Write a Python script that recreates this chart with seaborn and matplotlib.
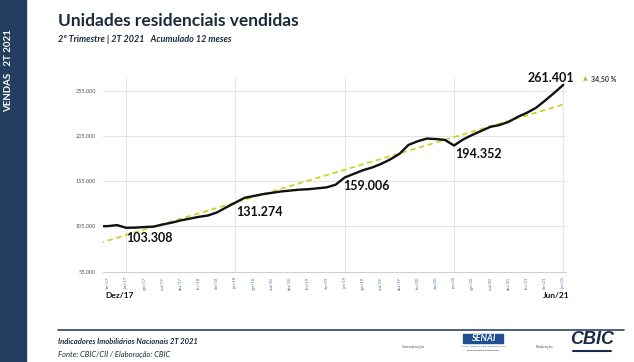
import matplotlib
matplotlib.use("Agg")
import matplotlib.pyplot as plt
import matplotlib.patches as mpatches
import numpy as np
import pandas as pd
import seaborn as sns

# ---------------- data ----------------
months = ["mar/17", "abr/17", "mai/17", "jun/17", "jul/17", "ago/17", "set/17", "out/17", "nov/17", "dez/17",
          "jan/18", "fev/18", "mar/18", "abr/18", "mai/18", "jun/18", "jul/18", "ago/18", "set/18", "out/18", "nov/18", "dez/18",
          "jan/19", "fev/19", "mar/19", "abr/19", "mai/19", "jun/19", "jul/19", "ago/19", "set/19", "out/19", "nov/19", "dez/19",
          "jan/20", "fev/20", "mar/20", "abr/20", "mai/20", "jun/20", "jul/20", "ago/20", "set/20", "out/20", "nov/20", "dez/20",
          "jan/21", "fev/21", "mar/21", "abr/21", "mai/21", "jun/21"]
units = [105000, 105200, 106300, 103308, 103500, 104200, 104600, 107000, 109000, 111500,
         113500, 115500, 117000, 120500, 126000, 131274, 136500, 138500, 140500, 142000, 143500, 144500,
         145500, 146000, 147000, 148000, 151000, 159006, 163000, 167000, 170000, 174000, 179000, 185000,
         195000, 199000, 202000, 201500, 200500, 194352, 201000, 206000, 210500, 215000, 217000, 220500,
         226000, 230500, 236000, 244000, 252500, 261401]
tick_labels = months[1::2]
y_ticks = [55000, 105000, 155000, 205000, 255000]
highlight = ["jun/17", "jun/18", "jun/19", "jun/20", "jun/21"]
growth_text = "34,50 %"

df = pd.DataFrame({"mes": months, "unidades": units})
df["pos"] = np.arange(len(df))

# ---------------- figure ----------------
W, H = 634, 362
fig = plt.figure(figsize=(W / 100, H / 100), dpi=100)
sns.set_style("white")
plt.rcParams["font.family"] = ["Lato", "DejaVu Sans"]

def P(x, y):
    return x / W, 1 - y / H

NAVY = "#243e60"

# left band
fig.patches.append(mpatches.Rectangle((0, 0), 26 / W, 1, transform=fig.transFigure,
                                      color=NAVY, zorder=0))
fig.text(*P(9, 71), "VENDAS   2T 2021", rotation=90, color="white", fontsize=7,
         fontweight="bold", ha="center", va="center")

# titles
fig.text(*P(58, 21), "Unidades residenciais vendidas", fontsize=12.5, fontweight="bold",
         color="#1c2b3c", ha="left", va="center")
fig.text(*P(58, 39), "2º Trimestre | 2T 2021   Acumulado 12 meses", fontsize=6.5,
         fontweight="bold", style="italic", color="#1c2b3c", ha="left", va="center")

# main axes
left, right, top, bottom = 103, 566, 78, 271.5
ax = fig.add_axes([left / W, 1 - bottom / H, (right - left) / W, (bottom - top) / H])

sns.regplot(data=df, x="pos", y="unidades", ax=ax, scatter=False, ci=None,
            line_kws=dict(color="#c8d62b", lw=1.3, ls=(0, (3, 2))))
sns.lineplot(data=df, x="pos", y="unidades", ax=ax, color="#111111", lw=1.7)

ax.set_xlim(0.45, 51.3)
ax.set_ylim(55000, 269000)
ax.set_yticks(y_ticks)
ax.set_yticklabels([f"{v:,}".replace(",", ".") for v in y_ticks], fontsize=4, color="#555555")
ax.set_xticks(df["pos"].values[1::2])
ax.set_xticklabels(tick_labels, rotation=90, fontsize=3, color="#4a6fa5")
ax.tick_params(axis="x", length=2, color="#cccccc", pad=2)
ax.tick_params(axis="y", length=0, pad=5)
ax.set_xlabel("")
ax.set_ylabel("")
ax.grid(axis="y", color="#e3e3e3", lw=0.8)
ax.set_axisbelow(True)
for m in highlight:
    ax.axvline(df.loc[df["mes"] == m, "pos"].values[0], color="#e8e8e8", lw=0.8, zorder=0)
for s in ["top", "right", "left"]:
    ax.spines[s].set_visible(False)
ax.spines["bottom"].set_color("#d0d0d0")
ax.spines["bottom"].set_linewidth(0.8)

# annotations
def fmt(v):
    return f"{v:,}".replace(",", ".")

offsets = {"jun/17": (0, -10, "left", "center"),
           "jun/18": (1, -9, "left", "center"),
           "jun/19": (-2, -9, "left", "center"),
           "jun/20": (1, -9, "left", "center"),
           "jun/21": (-12, 7, "center", "center")}
for m in highlight:
    r = df.loc[df["mes"] == m].iloc[0]
    dx, dy, ha, va = offsets[m]
    ax.annotate(fmt(r["unidades"]), (r["pos"], r["unidades"]), xytext=(dx, dy),
                textcoords="offset pixels", fontsize=9, fontweight="bold",
                color="#111111", ha=ha, va=va)

fig.text(*P(585, 79), "▲", fontsize=4.5, color="#9acd32", ha="center", va="center",
         family=["DejaVu Sans"])
fig.text(*P(591, 79), growth_text, fontsize=5, fontweight="bold", color="#333333",
         ha="left", va="center")

fig.text(*P(105, 296), "Dez/17", fontsize=6, fontweight="bold", color="#111111",
         ha="left", va="center")
fig.text(*P(570, 296), "Jun/21", fontsize=6, fontweight="bold", color="#111111",
         ha="right", va="center")

# footer
fig.add_artist(plt.Line2D([58 / W, 624 / W], [1 - 330 / H, 1 - 330 / H], color="#2c4566", lw=1.2))
fig.text(*P(58, 342), "Indicadores Imobiliários Nacionais 2T 2021", fontsize=5.5,
         fontweight="bold", style="italic", color="#1c2b3c", ha="left", va="center")
fig.text(*P(58, 354), "Fonte: CBIC/CII / Elaboração: CBIC", fontsize=5.5,
         style="italic", color="#1c2b3c", ha="left", va="center")
fig.text(*P(413, 347), "Correalização", fontsize=2.8, color="#555555", ha="center", va="center")
fig.text(*P(544, 347), "Realização", fontsize=2.8, color="#555555", ha="center", va="center")

fig.patches.append(mpatches.Rectangle((463 / W, 1 - 343 / H), 40 / W, 9 / H,
                                      transform=fig.transFigure, color="#1d4f91", zorder=1))
fig.text(*P(483, 338.5), "SENAI", fontsize=6.5, fontweight="bold", style="italic",
         color="white", ha="center", va="center")
fig.text(*P(483, 346.5), "Serviço Nacional de Aprendizagem Industrial", fontsize=1.6,
         color="#555555", ha="center", va="center")
fig.text(*P(483, 350.5), "PELO FUTURO DO TRABALHO", fontsize=1.6, fontweight="bold",
         color="#333333", ha="center", va="center")
fig.text(*P(592, 340), "CBIC", fontsize=13, fontweight="bold", style="italic",
         color="#1b2a4a", ha="center", va="center", family=["Liberation Sans", "DejaVu Sans"])
fig.add_artist(plt.Line2D([573 / W, 611 / W], [1 - 350.5 / H, 1 - 350.5 / H],
                          color="#1b2a4a", lw=1.5))

fig.savefig("out.png", dpi=100)
